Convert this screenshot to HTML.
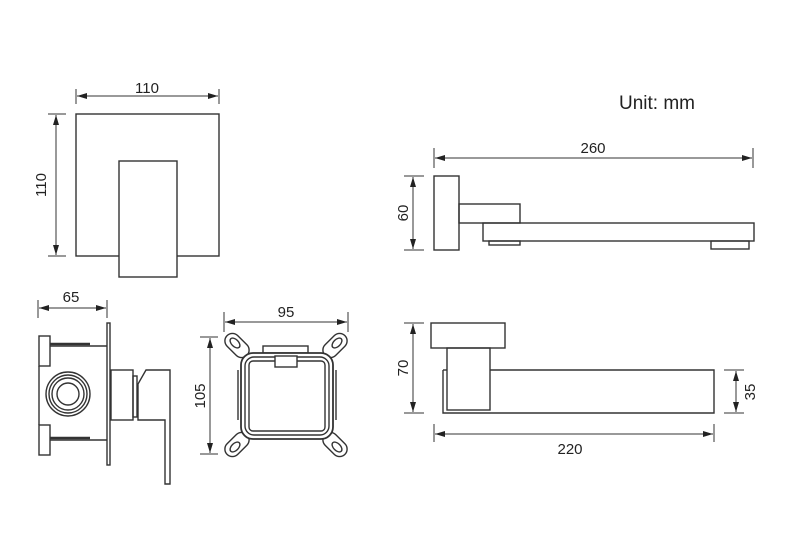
<!DOCTYPE html>
<html><head><meta charset="utf-8"><style>html,body{margin:0;padding:0;background:#fff}svg{display:block}</style></head>
<body>
<svg width="790" height="546" viewBox="0 0 790 546" xmlns="http://www.w3.org/2000/svg">
<defs>
<marker id="a" viewBox="0 0 10 6" refX="10" refY="3" markerWidth="10" markerHeight="6" orient="auto-start-reverse" markerUnits="userSpaceOnUse"><path d="M0,0L10,3L0,6z" fill="#222"/></marker>
</defs>
<g fill="none" stroke="#333" stroke-width="1.4">
<rect x="76" y="114" width="143" height="142"/>
<rect x="119" y="161" width="58" height="116" fill="#fff"/>
<line x1="76" y1="89" x2="76" y2="104" stroke-width="1"/>
<line x1="219" y1="89" x2="219" y2="104" stroke-width="1"/>
<line x1="77" y1="96" x2="218" y2="96" stroke-width="1" marker-start="url(#a)" marker-end="url(#a)"/>
<line x1="48" y1="114" x2="66" y2="114" stroke-width="1"/>
<line x1="48" y1="256" x2="66" y2="256" stroke-width="1"/>
<line x1="56" y1="115" x2="56" y2="255" stroke-width="1" marker-start="url(#a)" marker-end="url(#a)"/>

<line x1="38" y1="300" x2="38" y2="318" stroke-width="1"/>
<line x1="107" y1="300" x2="107" y2="318" stroke-width="1"/>
<line x1="39" y1="308" x2="106" y2="308" stroke-width="1" marker-start="url(#a)" marker-end="url(#a)"/>
<rect x="39" y="336" width="11" height="30"/>
<rect x="39" y="425" width="11" height="30"/>
<line x1="39" y1="366" x2="39" y2="425"/>
<line x1="50" y1="346" x2="107" y2="346"/>
<line x1="50" y1="344" x2="90" y2="344" stroke-width="2.5"/>
<line x1="50" y1="440" x2="107" y2="440"/>
<line x1="50" y1="438" x2="90" y2="438" stroke-width="2.5"/>
<circle cx="68" cy="394" r="22"/>
<circle cx="68" cy="394" r="19"/>
<circle cx="68" cy="394" r="16"/>
<circle cx="68" cy="394" r="11"/>
<rect x="107" y="323" width="3" height="142"/>
<rect x="111" y="370" width="22" height="50"/>
<rect x="133" y="376" width="4" height="41"/>
<path d="M146,370 L170,370 L170,484 L165,484 L165,420 L138,420 L138,384 Z"/>

<line x1="224" y1="312" x2="224" y2="332" stroke-width="1"/>
<line x1="348" y1="312" x2="348" y2="332" stroke-width="1"/>
<line x1="225" y1="322" x2="347" y2="322" stroke-width="1" marker-start="url(#a)" marker-end="url(#a)"/>
<line x1="200" y1="337" x2="218" y2="337" stroke-width="1"/>
<line x1="200" y1="454" x2="218" y2="454" stroke-width="1"/>
<line x1="210" y1="338" x2="210" y2="453" stroke-width="1" marker-start="url(#a)" marker-end="url(#a)"/>
<g fill="#fff">
<rect x="223" y="338" width="28" height="15" rx="7.5" transform="rotate(45 237 345.5)"/>
<rect x="321" y="338" width="28" height="15" rx="7.5" transform="rotate(-45 335 345.5)"/>
<rect x="223" y="437" width="28" height="15" rx="7.5" transform="rotate(-45 237 444.5)"/>
<rect x="321" y="437" width="28" height="15" rx="7.5" transform="rotate(45 335 444.5)"/>
</g>
<ellipse cx="235" cy="343" rx="6" ry="3.5" transform="rotate(45 235 343)"/>
<ellipse cx="337" cy="343" rx="6" ry="3.5" transform="rotate(-45 337 343)"/>
<ellipse cx="235" cy="447" rx="6" ry="3.5" transform="rotate(-45 235 447)"/>
<ellipse cx="337" cy="447" rx="6" ry="3.5" transform="rotate(45 337 447)"/>
<rect x="263" y="346" width="45" height="7" fill="#fff"/>
<rect x="241" y="353" width="92" height="86" rx="12" stroke-width="1.8" fill="#fff"/>
<rect x="245" y="357" width="84" height="78" rx="9"/>
<rect x="249" y="361" width="76" height="70" rx="4"/>
<rect x="275" y="356" width="22" height="11" fill="#fff"/>
<line x1="238" y1="370" x2="238" y2="420"/>
<line x1="336" y1="370" x2="336" y2="420"/>

<line x1="434" y1="148" x2="434" y2="168" stroke-width="1"/>
<line x1="753" y1="148" x2="753" y2="168" stroke-width="1"/>
<line x1="435" y1="158" x2="752" y2="158" stroke-width="1" marker-start="url(#a)" marker-end="url(#a)"/>
<line x1="404" y1="176" x2="424" y2="176" stroke-width="1"/>
<line x1="404" y1="250" x2="424" y2="250" stroke-width="1"/>
<line x1="413" y1="177" x2="413" y2="249" stroke-width="1" marker-start="url(#a)" marker-end="url(#a)"/>
<rect x="434" y="176" width="25" height="74"/>
<rect x="459" y="204" width="61" height="19"/>
<rect x="483" y="223" width="271" height="18"/>
<rect x="489" y="241" width="31" height="4"/>
<rect x="711" y="241" width="38" height="8"/>

<line x1="404" y1="323" x2="424" y2="323" stroke-width="1"/>
<line x1="404" y1="413" x2="424" y2="413" stroke-width="1"/>
<line x1="413" y1="324" x2="413" y2="412" stroke-width="1" marker-start="url(#a)" marker-end="url(#a)"/>
<line x1="724" y1="370" x2="744" y2="370" stroke-width="1"/>
<line x1="724" y1="413" x2="744" y2="413" stroke-width="1"/>
<line x1="736" y1="371" x2="736" y2="412" stroke-width="1" marker-start="url(#a)" marker-end="url(#a)"/>
<line x1="434" y1="424" x2="434" y2="442" stroke-width="1"/>
<line x1="714" y1="424" x2="714" y2="442" stroke-width="1"/>
<line x1="435" y1="434" x2="713" y2="434" stroke-width="1" marker-start="url(#a)" marker-end="url(#a)"/>
<rect x="431" y="323" width="74" height="25"/>
<rect x="447" y="348" width="43" height="62"/>
<path d="M443,370 L443,413 L714,413 L714,370 L490,370"/>
<line x1="443" y1="370" x2="447" y2="370"/>
</g>
<g font-family="Liberation Sans, sans-serif" font-size="15" fill="#222" text-anchor="middle">
<text x="147" y="93">110</text>
<text x="46" y="185" transform="rotate(-90 46 185)">110</text>
<text x="71" y="302">65</text>
<text x="286" y="317">95</text>
<text x="205" y="396" transform="rotate(-90 205 396)">105</text>
<text x="593" y="153">260</text>
<text x="408" y="213" transform="rotate(-90 408 213)">60</text>
<text x="408" y="368" transform="rotate(-90 408 368)">70</text>
<text x="755" y="392" transform="rotate(-90 755 392)">35</text>
<text x="570" y="454">220</text>
<text x="657" y="109" font-size="19">Unit: mm</text>
</g>
</svg>
</body></html>
